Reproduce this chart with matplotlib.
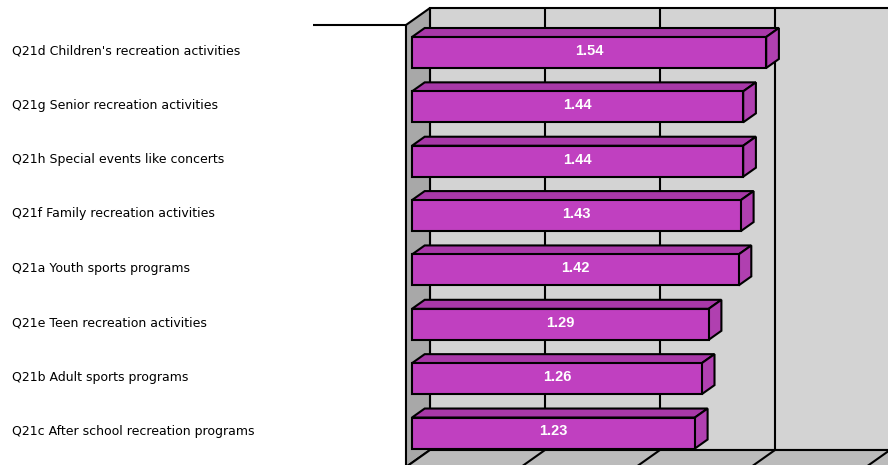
import matplotlib
matplotlib.use("Agg")
import matplotlib.pyplot as plt
from matplotlib.patches import Polygon

# Survey items (top to bottom) and their mean scores
categories = [
    "Q21d Children's recreation activities",
    "Q21g Senior recreation activities",
    "Q21h Special events like concerts",
    "Q21f Family recreation activities",
    "Q21a Youth sports programs",
    "Q21e Teen recreation activities",
    "Q21b Adult sports programs",
    "Q21c After school recreation programs",
]
values = [1.54, 1.44, 1.44, 1.43, 1.42, 1.29, 1.26, 1.23]
grid_ticks = [0.0, 0.5, 1.0, 1.5, 2.0]

# Colours of the pseudo-3D chart
FRONT = "#C040C0"
TOP = "#A838A8"
SIDE = "#B040B0"
BACK_WALL = "#D3D3D3"
SIDE_WALL = "#A8A8A8"
FLOOR = "#BBBBBB"
EDGE = "black"
LW = 1.5

# Depth projection: offset of the back plane relative to the front plane
DX = 0.1043   # value units
DY = -0.3127  # category units (negative = upward)
WALL_TOP = -0.584
WALL_BOTTOM = 7.547
X_MAX = grid_ticks[-1]
BAR_H = 0.57
D_FRONT, D_BACK = 0.25, 0.78


def P(v, y, d):
    """Project a point at depth d (0 front, 1 back)."""
    return (v + DX * d, y + DY * d)


fig = plt.figure(figsize=(8.88, 4.65), dpi=100)
ax = fig.add_axes([0, 0, 1, 1])
ax.set_xlim(-1.7652, 2.0957)
ax.set_ylim(7.510, -1.044)
ax.axis("off")


def poly(pts, fc, z):
    ax.add_patch(Polygon(pts, closed=True, facecolor=fc, edgecolor=EDGE,
                         linewidth=LW, joinstyle="miter", zorder=z))


# Back wall
poly([P(0, WALL_TOP, 1), P(X_MAX + 0.3, WALL_TOP, 1),
      P(X_MAX + 0.3, WALL_BOTTOM, 1), P(0, WALL_BOTTOM, 1)], BACK_WALL, 1)
# Left side wall
poly([P(0, WALL_TOP, 0), P(0, WALL_TOP, 1),
      P(0, WALL_BOTTOM, 1), P(0, WALL_BOTTOM, 0)], SIDE_WALL, 2)
# Floor
poly([P(0, WALL_BOTTOM, 0), P(0, WALL_BOTTOM, 1),
      P(X_MAX + 0.3, WALL_BOTTOM, 1), P(X_MAX + 0.3, WALL_BOTTOM, 0)], FLOOR, 2)

# Gridlines on the back wall and the floor
for t in grid_ticks[1:]:
    ax.plot(*zip(P(t, WALL_TOP, 1), P(t, WALL_BOTTOM, 1)),
            color=EDGE, lw=LW, zorder=3, solid_capstyle="butt")
    ax.plot(*zip(P(t, WALL_BOTTOM, 0), P(t, WALL_BOTTOM, 1)),
            color=EDGE, lw=LW, zorder=3, solid_capstyle="butt")

# Axis line stub to the left of the wall
ax.plot([-0.404, 0], [WALL_TOP, WALL_TOP], color=EDGE, lw=LW, zorder=3,
        solid_capstyle="butt")

# Bars
for i, (cat, v) in enumerate(zip(categories, values)):
    y0 = i - BAR_H / 2
    y1 = i + BAR_H / 2
    df, db = D_FRONT, D_BACK
    fl_t = P(0, y0, df)
    fr_t = P(v, y0, df)
    fr_b = P(v, y1, df)
    fl_b = P(0, y1, df)
    bl_t = P(0, y0, db)
    br_t = P(v, y0, db)
    br_b = P(v, y1, db)
    # top face
    poly([fl_t, bl_t, br_t, fr_t], TOP, 10 + i)
    # right end face
    poly([fr_t, br_t, br_b, fr_b], SIDE, 10 + i)
    # front face
    poly([fl_t, fr_t, fr_b, fl_b], FRONT, 10 + i)
    cx = (fl_t[0] + fr_t[0]) / 2
    cy = (fl_t[1] + fl_b[1]) / 2
    ax.text(cx, cy - 0.03, f"{v:.2f}", color="white", fontsize=10.5,
            fontweight="bold", family=["Liberation Sans", "DejaVu Sans"],
            ha="center", va="center", zorder=30)
    # category label
    ax.text(-1.7652 + 12 / 230, P(0, i, D_FRONT)[1] - 0.03, cat, color="black",
            fontsize=9, family=["DejaVu Sans"],
            ha="left", va="center", zorder=30)

fig.savefig("out.png", dpi=100)
